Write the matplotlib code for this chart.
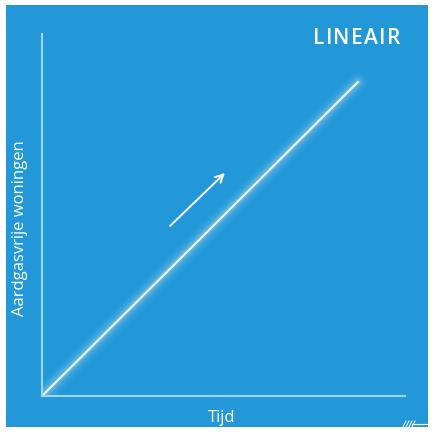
import matplotlib
matplotlib.use("Agg")
import matplotlib.pyplot as plt
from matplotlib.font_manager import FontProperties, findfont, get_font

# data
tijd = [0.0, 0.87]
woningen = [0.0, 0.867]
arrow_start = (0.353, 0.47)
arrow_end = (0.504, 0.616)
title = "LINEAIR"
xlabel = "Tijd"
ylabel = "Aardgasvrije woningen"

BG = "#2298d9"
AXC = "#9dd6f6"

fig = plt.figure(figsize=(4.34, 4.35), dpi=100, facecolor="white")
bg = fig.add_axes([6/434, 7/435, 422/434, 422/435], zorder=-5)
bg.set_facecolor(BG)
bg.set_xticks([]); bg.set_yticks([])
for s in bg.spines.values():
    s.set_visible(False)

ax = fig.add_axes([42/434, 38/435, 363/434, 362/435], zorder=1)
ax.set_facecolor("none")
ax.set_xlim(0, 1)
ax.set_ylim(0, 1)
for s in ["top", "right"]:
    ax.spines[s].set_visible(False)
for s in ["left", "bottom"]:
    ax.spines[s].set_color(AXC)
    ax.spines[s].set_linewidth(1.5)
ax.set_xticks([])
ax.set_yticks([])

# glow
for lw, a in [(14, 0.04), (10, 0.06), (7, 0.08), (4.5, 0.12)]:
    ax.plot(tijd, woningen, color="white", lw=lw, alpha=a, solid_capstyle="round")
ax.plot(tijd, woningen, color="#f2fbff", lw=1.5)

ax.annotate("", xy=arrow_end, xytext=arrow_start,
            arrowprops=dict(arrowstyle="->", color="white", lw=1.4, mutation_scale=14,
                            shrinkA=0, shrinkB=0))

# letter-spaced title
size_pt = 15
fp = FontProperties(family="Open Sans", weight="semibold", size=size_pt)
font = get_font(findfont(fp))
font.set_size(size_pt, 100)
spacing = 1.3  # px extra tracking
advs = []
for ch in title:
    g = font.load_char(ord(ch))
    advs.append(g.linearHoriAdvance / 65536.0)
total = sum(advs) + spacing * (len(title) - 1)
x = 400.0 - total
for ch, a in zip(title, advs):
    fig.text(x/434, 1 - 36.5/435, ch, ha="left", va="center_baseline", color="white",
             fontproperties=fp)
    x += a + spacing

fig.text(222/434, 1 - 418/435, xlabel, ha="center", va="center", color="white",
         fontsize=12, family="Open Sans")
fig.text(20/434, 1 - 228/435, ylabel, ha="center", va="center", color="white",
         fontsize=12, family="Open Sans", rotation=90)

# small signature mark
fig.lines.append(plt.Line2D([412/434, 432/434], [1 - 425/435, 1 - 425/435],
                            transform=fig.transFigure, color="white", lw=0.8))
for x0 in [403, 406, 409, 412]:
    fig.lines.append(plt.Line2D([x0/434, (x0+3)/434], [1 - 428/435, 1 - 422/435],
                                transform=fig.transFigure, color="white", lw=0.7))

fig.savefig("out.png", dpi=100, facecolor="white")
